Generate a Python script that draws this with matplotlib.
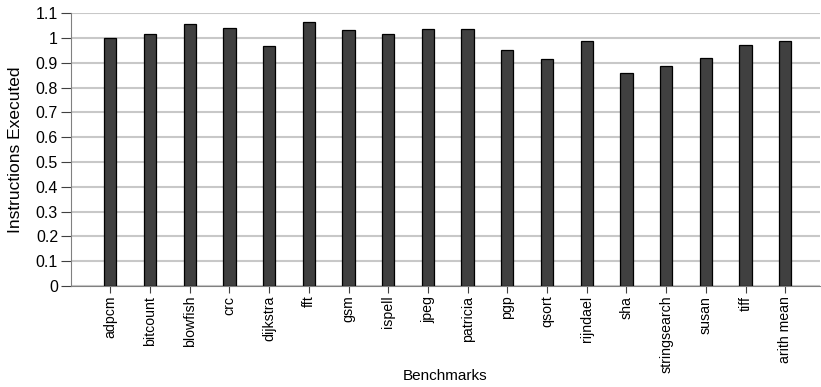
import matplotlib.pyplot as plt

plt.rcParams['font.family'] = ['Liberation Sans', 'DejaVu Sans']

benchmarks = ["adpcm", "bitcount", "blowfish", "crc", "dijkstra", "fft", "gsm",
              "ispell", "jpeg", "patricia", "pgp", "qsort", "rijndael", "sha",
              "stringsearch", "susan", "tiff", "arith mean"]
instructions = [1.00, 1.014, 1.058, 1.041, 0.969, 1.065, 1.033, 1.017, 1.037,
                1.037, 0.952, 0.916, 0.989, 0.857, 0.886, 0.921, 0.970, 0.986]
yticks = [0, 0.1, 0.2, 0.3, 0.4, 0.5, 0.6, 0.7, 0.8, 0.9, 1, 1.1]
ytick_labels = ["0", "0.1", "0.2", "0.3", "0.4", "0.5", "0.6", "0.7", "0.8", "0.9", "1", "1.1"]

fig = plt.figure(figsize=(8.21, 3.87), dpi=100)
ax = fig.add_axes([0.086, 0.261, 0.913, 0.705])

x = list(range(len(benchmarks)))
ax.bar(x, instructions, width=0.31, color='#404040', edgecolor='black',
       linewidth=0.9, zorder=3)

ax.set_ylim(0, 1.1)
ax.set_xlim(-1.0, 17.88)
ax.set_yticks(yticks)
ax.set_yticklabels(ytick_labels, fontsize=11.5)
ax.set_xticks(x)
ax.set_xticklabels(benchmarks, rotation=90, fontsize=10.2)

ax.yaxis.grid(True, color='#c8c8c8', linewidth=1.5, zorder=0)
ax.set_axisbelow(True)
for s in ['top', 'right']:
    ax.spines[s].set_visible(False)
ax.spines['left'].set_color('#808080')
ax.spines['bottom'].set_color('#808080')
ax.tick_params(axis='y', direction='out', length=7, color='#404040', pad=2)
ax.tick_params(axis='x', direction='out', length=5, color='#404040', pad=2)

ax.set_ylabel("Instructions Executed", fontsize=12.5, labelpad=9)
ax.set_xlabel("Benchmarks", fontsize=11)
ax.xaxis.set_label_coords(0.5, -0.305)

fig.savefig("out.png", dpi=100)
